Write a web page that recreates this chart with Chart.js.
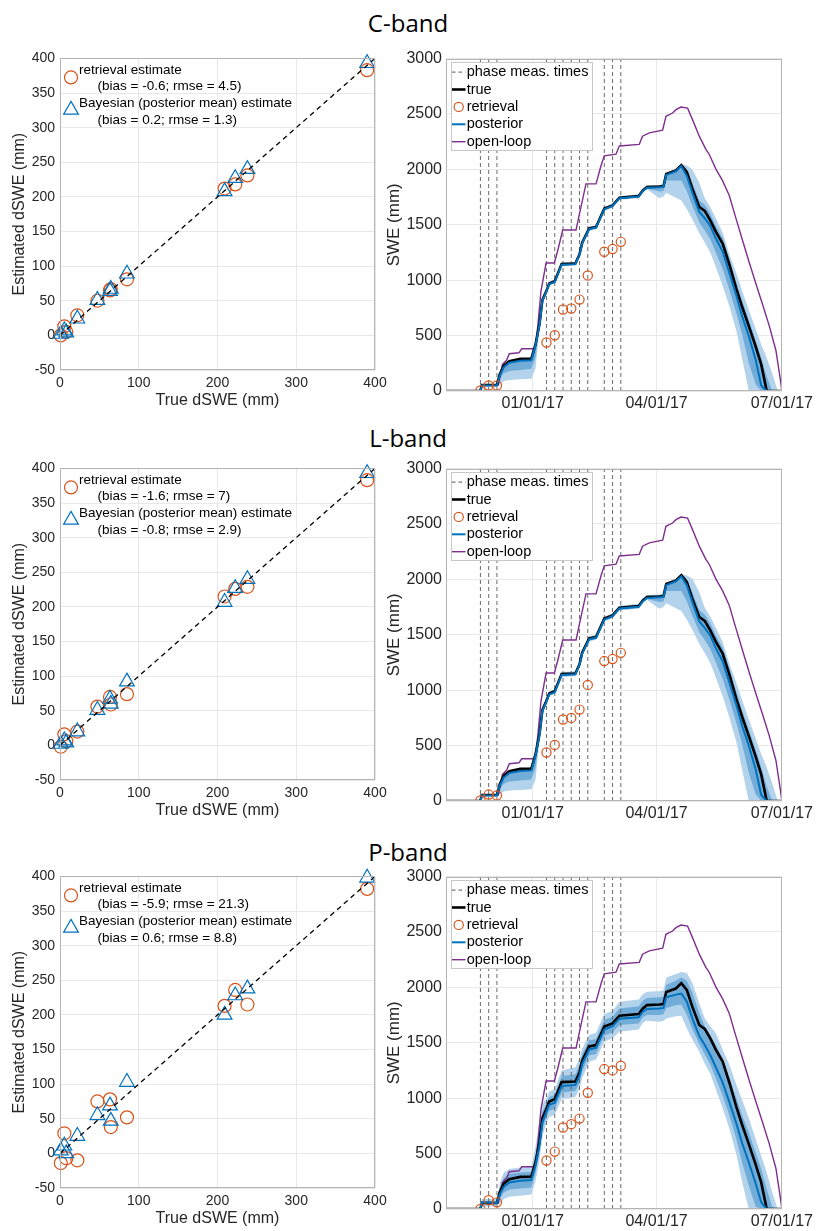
<!DOCTYPE html>
<html>
<head>
<meta charset="utf-8">
<script src="https://cdn.jsdelivr.net/npm/chart.js@4.4.1/dist/chart.umd.min.js"></script>
<style>
  body { margin: 0; background: #fff; width: 816px; height: 1231px; position: relative; overflow: hidden; }
  .band-title { position: absolute; left: 0; width: 816px; text-align: center; font: 24px "Open Sans"; line-height: 30px; color: #000; }
  canvas { position: absolute; }
</style>
</head>
<body>
<div class="band-title" style="top:8px">C-band</div>
<div class="band-title" style="top:423px">L-band</div>
<div class="band-title" style="top:837px">P-band</div>

<canvas id="scatterC" width="400" height="365" style="left:0;top:45px"></canvas>
<canvas id="seriesC" width="436" height="368" style="left:380px;top:45px"></canvas>
<canvas id="scatterL" width="400" height="365" style="left:0;top:455px"></canvas>
<canvas id="seriesL" width="436" height="368" style="left:380px;top:455px"></canvas>
<canvas id="scatterP" width="400" height="365" style="left:0;top:863px"></canvas>
<canvas id="seriesP" width="436" height="368" style="left:380px;top:863px"></canvas>

<script>
// ---- scatter panels: dSWE between phase measurement pairs ----
let trueDSWE = [1, 5.5, 8, 22, 47.5, 63.5, 64.5, 85, 209, 222.5, 238, 390];
let cRetrievalDSWE = [0, 13, 5, 29, 50, 65, 67, 81, 212, 218, 231, 383];
let cBayesDSWE = [2, 7, 4, 24, 51, 64, 67, 89, 208, 227, 240, 393];
let lRetrievalDSWE = [-2, 16, 6, 20, 56, 70, 59, 74, 215, 226, 229, 383];
let lBayesDSWE = [2, 7, 4, 20, 51, 67, 60, 92, 207, 227, 240, 393];
let pRetrievalDSWE = [-14, 29, -7, -10, 75, 78, 38, 52, 213, 236, 215, 382];
let pBayesDSWE = [4, 11, 0, 25, 55, 69, 47, 103, 200, 228, 238, 398];
let oneToOne = [0, 400];
let cStats = ['(bias = -0.6; rmse = 4.5)', '(bias = 0.2; rmse = 1.3)'];
let lStats = ['(bias = -1.6; rmse = 7)', '(bias = -0.8; rmse = 2.9)'];
let pStats = ['(bias = -5.9; rmse = 21.3)', '(bias = 0.6; rmse = 8.8)'];

// ---- time series panels (x = days from 01/01/17) ----
let dateTickDays = [0, 90, 181];
let dateTickLabels = ['01/01/17', '04/01/17', '07/01/17'];
let measDays = [-38, -32, -26, 10, 16, 22, 28, 34, 40, 52, 58, 64];
let cRetrievalSWE = [5, 50, 50, 438, 503, 736, 745, 825, 1043, 1257, 1281, 1346];
let lRetrievalSWE = [5, 58, 50, 438, 506, 736, 750, 825, 1048, 1263, 1281, 1337];
let pRetrievalSWE = [0, 80, 60, 438, 518, 736, 766, 816, 1049, 1263, 1251, 1293];

let days = [-63, -38, -37, -26, -24, -21, -17, -9, -1, 2, 5, 7, 10, 12, 16, 21, 31, 34, 36, 41, 46, 52, 58, 63, 77, 80, 83, 92, 95, 97, 104, 108, 112, 116, 121, 125, 129, 133, 138, 143, 148, 152, 157, 162, 166, 170, 174, 178, 181];
let trueSWE = [0, 0, 54, 54, 150, 230, 268, 290, 292, 420, 610, 820, 905, 970, 990, 1145, 1150, 1235, 1340, 1467, 1480, 1646, 1675, 1745, 1759, 1810, 1840, 1845, 1850, 1958, 1990, 2039, 1975, 1824, 1661, 1625, 1540, 1438, 1330, 1135, 920, 765, 585, 400, 240, 0, 0, 0, 0];

let cPosterior = [0, 0, 50, 50, 140, 215, 255, 272, 278, 410, 600, 815, 900, 965, 985, 1140, 1145, 1230, 1335, 1462, 1475, 1640, 1670, 1740, 1755, 1805, 1835, 1840, 1845, 1950, 1985, 2030, 1940, 1790, 1616, 1560, 1490, 1378, 1258, 1060, 860, 680, 495, 280, 50, 0, 0, 0, 0];
let cOuterLo = [0, 0, 45, 45, 60, 90, 100, 105, 110, 200, 560, 780, 880, 950, 970, 1125, 1130, 1215, 1320, 1445, 1460, 1625, 1655, 1725, 1740, 1790, 1820, 1740, 1755, 1790, 1745, 1720, 1640, 1550, 1423, 1340, 1250, 1120, 950, 760, 540, 300, 0, 0, 0, 0, 0, 0, 0];
let cOuterHi = [0, 0, 58, 58, 160, 240, 275, 295, 300, 440, 630, 850, 925, 985, 1005, 1160, 1165, 1250, 1355, 1485, 1495, 1660, 1690, 1760, 1775, 1825, 1855, 1860, 1865, 1970, 2000, 2045, 2035, 2000, 1880, 1740, 1660, 1560, 1430, 1230, 1060, 910, 730, 560, 420, 300, 160, 0, 0];
let cInnerLo = [0, 0, 48, 48, 110, 160, 180, 190, 200, 300, 580, 800, 890, 958, 978, 1133, 1138, 1222, 1328, 1453, 1468, 1632, 1662, 1732, 1748, 1798, 1828, 1800, 1805, 1900, 1900, 1900, 1800, 1670, 1520, 1450, 1370, 1250, 1100, 910, 700, 520, 250, 60, 0, 0, 0, 0, 0];
let cInnerHi = [0, 0, 55, 55, 152, 232, 270, 292, 295, 430, 620, 835, 915, 978, 998, 1152, 1158, 1242, 1348, 1475, 1488, 1652, 1682, 1752, 1767, 1817, 1847, 1852, 1857, 1962, 1995, 2040, 2000, 1880, 1720, 1680, 1600, 1490, 1380, 1190, 980, 820, 640, 460, 300, 130, 0, 0, 0];

let lPosterior = [0, 0, 50, 50, 140, 212, 252, 270, 276, 405, 598, 812, 898, 962, 982, 1138, 1143, 1228, 1333, 1460, 1473, 1638, 1668, 1738, 1753, 1803, 1833, 1838, 1843, 1948, 1983, 2028, 1945, 1795, 1620, 1562, 1492, 1380, 1262, 1065, 865, 684, 500, 284, 55, 0, 0, 0, 0];
let lOuterLo = [0, 0, 45, 45, 60, 85, 95, 100, 105, 190, 555, 775, 875, 945, 965, 1120, 1125, 1210, 1315, 1440, 1455, 1620, 1650, 1720, 1735, 1785, 1815, 1735, 1750, 1785, 1740, 1715, 1635, 1545, 1420, 1335, 1245, 1115, 945, 750, 530, 290, 0, 0, 0, 0, 0, 0, 0];
let lOuterHi = [0, 0, 58, 58, 160, 242, 278, 298, 302, 445, 635, 855, 930, 990, 1010, 1165, 1170, 1255, 1360, 1490, 1500, 1665, 1695, 1765, 1780, 1830, 1860, 1865, 1870, 1972, 2002, 2045, 2035, 2005, 1885, 1745, 1665, 1565, 1435, 1235, 1065, 915, 735, 565, 425, 305, 160, 0, 0];
let lInnerLo = [0, 0, 48, 48, 105, 155, 175, 185, 195, 295, 575, 795, 885, 953, 973, 1128, 1133, 1217, 1323, 1448, 1463, 1627, 1657, 1727, 1743, 1793, 1823, 1795, 1800, 1895, 1895, 1895, 1800, 1672, 1522, 1452, 1372, 1252, 1102, 912, 702, 522, 252, 62, 0, 0, 0, 0, 0];
let lInnerHi = [0, 0, 55, 55, 152, 234, 272, 294, 297, 432, 622, 838, 918, 980, 1000, 1155, 1160, 1245, 1350, 1478, 1490, 1655, 1685, 1755, 1770, 1820, 1850, 1855, 1860, 1964, 1997, 2040, 2002, 1884, 1724, 1684, 1604, 1494, 1384, 1194, 984, 824, 644, 464, 304, 134, 0, 0, 0];

let pPosterior = [0, 0, 60, 55, 130, 200, 240, 255, 262, 390, 580, 780, 880, 940, 960, 1110, 1120, 1200, 1310, 1440, 1455, 1620, 1650, 1718, 1730, 1780, 1805, 1810, 1815, 1910, 1935, 1945, 1870, 1720, 1560, 1480, 1390, 1280, 1140, 960, 770, 600, 420, 230, 60, 0, 0, 0, 0];
let pOuterLo = [0, 0, 20, 30, 50, 90, 110, 120, 130, 250, 450, 650, 780, 830, 850, 990, 1010, 1080, 1180, 1330, 1350, 1510, 1540, 1600, 1620, 1680, 1700, 1690, 1700, 1720, 1740, 1745, 1630, 1530, 1420, 1310, 1220, 1080, 910, 720, 490, 250, 0, 0, 0, 0, 0, 0, 0];
let pOuterHi = [0, 0, 90, 90, 230, 330, 360, 375, 380, 560, 800, 950, 1000, 1060, 1080, 1250, 1280, 1360, 1450, 1570, 1590, 1760, 1790, 1870, 1890, 1940, 1960, 1965, 1975, 2090, 2120, 2140, 2130, 2040, 1854, 1720, 1650, 1587, 1440, 1300, 1120, 990, 820, 630, 480, 330, 150, 0, 0];
let pInnerLo = [0, 0, 40, 45, 90, 150, 175, 185, 195, 320, 520, 720, 830, 885, 905, 1050, 1065, 1140, 1245, 1385, 1400, 1565, 1595, 1660, 1675, 1730, 1752, 1750, 1758, 1815, 1838, 1845, 1750, 1625, 1490, 1395, 1305, 1180, 1025, 840, 630, 425, 210, 20, 0, 0, 0, 0, 0];
let pInnerHi = [0, 0, 75, 70, 190, 280, 315, 330, 335, 480, 700, 880, 950, 1010, 1030, 1200, 1215, 1300, 1400, 1520, 1535, 1705, 1735, 1810, 1830, 1880, 1905, 1910, 1918, 2025, 2060, 2090, 2060, 1950, 1770, 1650, 1570, 1480, 1360, 1180, 1000, 850, 690, 510, 360, 180, 20, 0, 0];

let openLoopDays = [-63, -38, -37, -25, -22, -19, -17, -10, -8, 1, 2.4, 3.7, 6, 9.7, 15.7, 18, 21.8, 31.5, 34, 38.7, 46, 49.6, 52, 60.5, 62.9, 77.4, 79.8, 84.7, 94.4, 96.8, 101.6, 104.1, 107.7, 112.5, 116.1, 121, 125.8, 128.2, 133.1, 137.9, 142.8, 147.6, 152.4, 157.3, 162.1, 166.9, 171.8, 176.7, 180.3, 181];
let openLoopSWE = [0, 0, 54, 54, 240, 277, 336, 345, 381, 381, 440, 589, 902, 1155, 1155, 1259, 1453, 1453, 1600, 1869, 1869, 2033, 2122, 2137, 2211, 2226, 2300, 2330, 2354, 2479, 2509, 2539, 2563, 2553, 2449, 2300, 2181, 2137, 2003, 1899, 1765, 1560, 1360, 1160, 970, 785, 590, 366, 69, 0];

const orange = '#D95319';
const blue = '#0072BD';
const purple = '#7E2F8E';
const tickColor = '#262626';

Chart.defaults.font.family = '"Liberation Sans", Arial, sans-serif';
Chart.defaults.color = tickColor;

function pts(xs, ys) {
    return xs.map((x, i) => ({ x: x, y: ys[i] }));
}

// draws a marker like chart.js does for circle / triangle point styles
function drawMarker(ctx, style, x, y, r, color) {
    ctx.beginPath();
    if (style === 'triangle') {
        for (let k = 0; k < 3; k++) {
            const a = -Math.PI / 2 + k * 2 * Math.PI / 3;
            const px = x + Math.cos(a) * r, py = y + Math.sin(a) * r;
            if (k === 0) ctx.moveTo(px, py); else ctx.lineTo(px, py);
        }
        ctx.closePath();
    } else {
        ctx.arc(x, y, r, 0, Math.PI * 2);
    }
    ctx.strokeStyle = color;
    ctx.lineWidth = 1.2;
    ctx.stroke();
}

const framePlugin = {
    id: 'frame',
    afterDraw(chart) {
        const { ctx, chartArea: a } = chart;
        ctx.save();
        ctx.strokeStyle = '#b4b4b4';
        ctx.lineWidth = 1;
        ctx.strokeRect(Math.round(a.left) + 0.5, Math.round(a.top) + 0.5, Math.round(a.width) - 1, Math.round(a.height) - 1);
        ctx.restore();
    }
};

// legend of the dSWE panels: marker + two lines of text, no box
const markerNote = {
    id: 'markerNote',
    afterDatasetsDraw(chart, args, opts) {
        if (!opts.rows) return;
        const { ctx, chartArea: a } = chart;
        ctx.save();
        ctx.font = '13.5px "Liberation Sans"';
        ctx.fillStyle = '#000';
        ctx.textBaseline = 'middle';
        opts.rows.forEach(r => {
            drawMarker(ctx, r.marker, a.left + 11, a.top + r.markerY, r.radius, r.color);
            ctx.fillText(r.lines[0], a.left + 19, a.top + r.textY[0]);
            ctx.fillText(r.lines[1], a.left + 37.5, a.top + r.textY[1]);
        });
        ctx.restore();
    }
};

// boxed legend of the SWE panels
const boxLegend = {
    id: 'boxLegend',
    afterDatasetsDraw(chart, args, opts) {
        if (!opts.items) return;
        const { ctx, chartArea: a } = chart;
        const x0 = a.left + 4.5, y0 = a.top + 3.5;
        ctx.save();
        ctx.fillStyle = '#fff';
        ctx.fillRect(x0, y0, 141, 88);
        ctx.strokeStyle = '#c8c8c8';
        ctx.lineWidth = 1;
        ctx.strokeRect(Math.round(x0) + 0.5, Math.round(y0) + 0.5, 141, 88);
        ctx.font = '14.5px "Liberation Sans"';
        ctx.textBaseline = 'middle';
        opts.items.forEach((it, i) => {
            const y = a.top + 13.5 + i * 17.4;
            if (it.kind === 'circle') {
                drawMarker(ctx, 'circle', a.left + 12.7, y, 4.6, it.color);
            } else {
                ctx.beginPath();
                ctx.setLineDash(it.dash || []);
                ctx.strokeStyle = it.color;
                ctx.lineWidth = it.width;
                ctx.moveTo(a.left + 6, y);
                ctx.lineTo(a.left + 19.5, y);
                ctx.stroke();
                ctx.setLineDash([]);
            }
            ctx.fillStyle = '#000';
            ctx.fillText(it.text, a.left + 20.7, y);
        });
        ctx.restore();
    }
};

Chart.register(framePlugin, markerNote, boxLegend);

function scatterPanel(id, retrieval, bayes, stats) {
    new Chart(document.getElementById(id), {
        type: 'scatter',
        data: {
            datasets: [
                {
                    label: '1:1',
                    data: pts(oneToOne, oneToOne),
                    showLine: true,
                    borderColor: '#000',
                    borderWidth: 1.3,
                    borderDash: [5, 4],
                    pointRadius: 0,
                    order: 0
                },
                {
                    label: 'Bayesian (posterior mean) estimate',
                    data: pts(trueDSWE, bayes),
                    pointStyle: 'triangle',
                    pointRadius: 8.5,
                    borderColor: blue,
                    backgroundColor: 'rgba(0,0,0,0)',
                    borderWidth: 1.2,
                    clip: false,
                    order: 1
                },
                {
                    label: 'retrieval estimate',
                    data: pts(trueDSWE, retrieval),
                    pointStyle: 'circle',
                    pointRadius: 6.5,
                    borderColor: orange,
                    backgroundColor: 'rgba(0,0,0,0)',
                    borderWidth: 1.2,
                    clip: false,
                    order: 2
                }
            ]
        },
        options: {
            responsive: false,
            animation: false,
            layout: { padding: { top: 10, right: 25, left: 0, bottom: 0 } },
            plugins: {
                legend: { display: false },
                tooltip: { enabled: false },
                markerNote: {
                    rows: [
                        { marker: 'circle', color: orange, radius: 6.5, markerY: 19, textY: [11.7, 28.3], lines: ['retrieval estimate', stats[0]] },
                        { marker: 'triangle', color: blue, radius: 8.5, markerY: 51.5, textY: [45, 61.7], lines: ['Bayesian (posterior mean) estimate', stats[1]] }
                    ]
                }
            },
            scales: {
                x: {
                    type: 'linear',
                    min: 0,
                    max: 400,
                    ticks: { stepSize: 100, padding: 5, font: { size: 14 }, color: tickColor, callback: v => String(v) },
                    grid: { color: '#e8e8e8', drawTicks: false },
                    border: { display: false },
                    title: { display: true, text: 'True dSWE (mm)', font: { size: 16 }, color: tickColor, padding: { top: 0, bottom: 0 } },
                    afterFit: s => { s.height = 40; }
                },
                y: {
                    min: -50,
                    max: 400,
                    ticks: { stepSize: 50, padding: 5, font: { size: 14 }, color: tickColor, callback: v => String(v) },
                    grid: { color: '#e8e8e8', drawTicks: false },
                    border: { display: false },
                    title: { display: true, text: 'Estimated dSWE (mm)', font: { size: 16 }, color: tickColor, padding: { top: 10, bottom: 0 } },
                    afterFit: s => { s.width = 60; }
                }
            }
        }
    });
}

function seriesPanel(id, retrievalSWE, posterior, outerLo, outerHi, innerLo, innerHi) {
    const measLines = [];
    measDays.forEach(d => {
        measLines.push({ x: d, y: 0 }, { x: d, y: 3000 }, { x: d, y: null });
    });
    const band = { showLine: true, pointRadius: 0, borderWidth: 1, borderColor: 'rgba(0,0,0,0)' };
    new Chart(document.getElementById(id), {
        type: 'scatter',
        data: {
            datasets: [
                { label: 'retrieval', data: pts(measDays, retrievalSWE), pointStyle: 'circle', pointRadius: 4.6, borderColor: orange, backgroundColor: 'rgba(0,0,0,0)', borderWidth: 1.2, order: 0 },
                { label: 'posterior', data: pts(days, posterior), showLine: true, pointRadius: 0, borderColor: blue, borderWidth: 2, order: 1 },
                { label: 'true', data: pts(days, trueSWE), showLine: true, pointRadius: 0, borderColor: '#000', borderWidth: 2.6, order: 2 },
                { label: 'open-loop', data: pts(openLoopDays, openLoopSWE), showLine: true, pointRadius: 0, borderColor: purple, borderWidth: 1.4, order: 3 },
                { label: 'phase meas. times', data: measLines, showLine: true, spanGaps: false, pointRadius: 0, borderColor: '#6a6a6a', borderWidth: 1, borderDash: [4, 3], order: 4 },
                Object.assign({ label: 'inner hi', data: pts(days, innerHi), fill: false, order: 5 }, band),
                Object.assign({ label: 'inner lo', data: pts(days, innerLo), fill: '-1', backgroundColor: '#72acd8', order: 6 }, band),
                Object.assign({ label: 'outer hi', data: pts(days, outerHi), fill: false, order: 7 }, band),
                Object.assign({ label: 'outer lo', data: pts(days, outerLo), fill: '-1', backgroundColor: '#b2d3eb', order: 8 }, band)
            ]
        },
        options: {
            responsive: false,
            animation: false,
            layout: { padding: { top: 10, right: 33, left: 0, bottom: 0 } },
            plugins: {
                legend: { display: false },
                tooltip: { enabled: false },
                boxLegend: {
                    items: [
                        { text: 'phase meas. times', color: '#555', width: 1, dash: [3.5, 3] },
                        { text: 'true', color: '#000', width: 2.6 },
                        { text: 'retrieval', color: orange, kind: 'circle' },
                        { text: 'posterior', color: blue, width: 2 },
                        { text: 'open-loop', color: purple, width: 1.4 }
                    ]
                }
            },
            scales: {
                x: {
                    type: 'linear',
                    min: -63,
                    max: 181,
                    afterBuildTicks: s => { s.ticks = dateTickDays.map(v => ({ value: v })); },
                    ticks: {
                        autoSkip: false,
                        maxRotation: 0,
                        padding: 3,
                        font: { size: 16 },
                        color: tickColor,
                        callback: (v, i) => dateTickLabels[i]
                    },
                    grid: { color: '#e8e8e8', drawTicks: false },
                    border: { display: false },
                    afterFit: s => { s.height = 22; }
                },
                y: {
                    min: 0,
                    max: 3000,
                    ticks: { stepSize: 500, padding: 4, font: { size: 16 }, color: tickColor, callback: v => String(v) },
                    grid: { color: '#e8e8e8', drawTicks: false },
                    border: { display: false },
                    title: { display: true, text: 'SWE (mm)', font: { size: 17 }, color: tickColor, padding: { top: 4, bottom: 0 } },
                    afterFit: s => { s.width = 66; }
                }
            }
        }
    });
}

scatterPanel('scatterC', cRetrievalDSWE, cBayesDSWE, cStats);
scatterPanel('scatterL', lRetrievalDSWE, lBayesDSWE, lStats);
scatterPanel('scatterP', pRetrievalDSWE, pBayesDSWE, pStats);
seriesPanel('seriesC', cRetrievalSWE, cPosterior, cOuterLo, cOuterHi, cInnerLo, cInnerHi);
seriesPanel('seriesL', lRetrievalSWE, lPosterior, lOuterLo, lOuterHi, lInnerLo, lInnerHi);
seriesPanel('seriesP', pRetrievalSWE, pPosterior, pOuterLo, pOuterHi, pInnerLo, pInnerHi);
</script>
</body>
</html>
